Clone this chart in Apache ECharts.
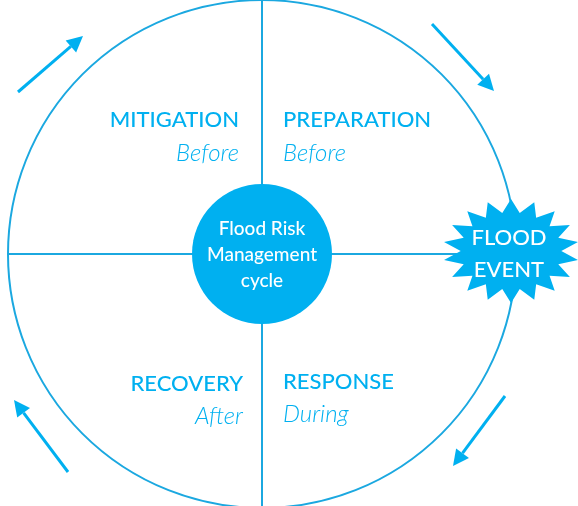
<!DOCTYPE html>
<html>
<head>
<meta charset="utf-8">
<script src="https://cdn.jsdelivr.net/npm/echarts@6/dist/echarts.min.js"></script>
<style>
  html, body { margin: 0; padding: 0; background: #fff; }
  #chart { width: 578px; height: 506px; }
</style>
</head>
<body>
<div id="chart"></div>
<script>
var phases = ['MITIGATION', 'PREPARATION', 'RESPONSE', 'RECOVERY'];
var timing = ['Before', 'Before', 'During', 'After'];
var centreLines = ['Flood Risk', 'Management', 'cycle'];
var eventLines = ['FLOOD', 'EVENT'];

var blue = '#00b0f0';
var lineBlue = '#1ba8e0';
var font = 'Lato';

var cx = 262, cy = 254, r = 254;

// label positions per quadrant: [x, y of title, align]
var labelPos = [
    [239, 120, 'right'],
    [283, 120, 'left'],
    [283, 382, 'left'],
    [243, 384, 'right']
];
var subPos = [
    [239, 153], [283, 153], [283, 414], [243, 416]
];

// cycle arrows: start -> end
var arrows = [
    [[18, 92], [83, 36]],
    [[432, 24], [494, 91]],
    [[505, 396], [453, 466]],
    [[68, 472], [14, 400]]
];

function starPoints(x, y, rx, ry, inner, n) {
    var pts = [];
    for (var i = 0; i < n * 2; i++) {
        var a = Math.PI * i / n - Math.PI / 2;
        var k = i % 2 === 0 ? 1 : inner;
        pts.push([x + Math.cos(a) * rx * k, y + Math.sin(a) * ry * k]);
    }
    return pts;
}

var elements = [];

elements.push({
    type: 'circle', shape: { cx: cx, cy: cy, r: r },
    style: { fill: 'none', stroke: lineBlue, lineWidth: 2 }
});
elements.push({
    type: 'line', shape: { x1: cx, y1: 0, x2: cx, y2: 506 },
    style: { stroke: lineBlue, lineWidth: 2 }
});
elements.push({
    type: 'line', shape: { x1: cx - r, y1: cy, x2: 460, y2: cy },
    style: { stroke: lineBlue, lineWidth: 2 }
});

elements.push({
    type: 'circle', shape: { cx: cx, cy: cy, r: 70 },
    style: { fill: blue }
});
centreLines.forEach(function (t, i) {
    elements.push({
        type: 'text', x: cx, y: 229 + i * 26,
        style: { text: t, fill: '#fff', font: '500 19px ' + font, textAlign: 'center', textVerticalAlign: 'middle' }
    });
});

phases.forEach(function (p, i) {
    elements.push({
        type: 'text', x: labelPos[i][0], y: labelPos[i][1],
        style: { text: p, fill: blue, font: '500 22px ' + font, textAlign: labelPos[i][2], textVerticalAlign: 'middle' }
    });
    elements.push({
        type: 'text', x: subPos[i][0], y: subPos[i][1],
        style: { text: timing[i], fill: blue, font: 'italic 300 24px ' + font, textAlign: labelPos[i][2], textVerticalAlign: 'middle' }
    });
});

elements.push({
    type: 'polygon', shape: { points: starPoints(511, 251, 68, 52, 0.74, 18) },
    style: { fill: blue }
});
eventLines.forEach(function (t, i) {
    elements.push({
        type: 'text', x: 509, y: 238 + i * 32,
        style: { text: t, fill: '#fff', font: '500 22px ' + font, textAlign: 'center', textVerticalAlign: 'middle' }
    });
});

arrows.forEach(function (a) {
    var x1 = a[0][0], y1 = a[0][1], x2 = a[1][0], y2 = a[1][1];
    var ang = Math.atan2(y2 - y1, x2 - x1);
    var len = 16, half = 8;
    var bx = x2 - Math.cos(ang) * len, by = y2 - Math.sin(ang) * len;
    elements.push({
        type: 'line', shape: { x1: x1, y1: y1, x2: bx, y2: by },
        style: { stroke: blue, lineWidth: 3 }
    });
    elements.push({
        type: 'polygon',
        shape: { points: [
            [x2, y2],
            [bx + Math.sin(ang) * half, by - Math.cos(ang) * half],
            [bx - Math.sin(ang) * half, by + Math.cos(ang) * half]
        ] },
        style: { fill: blue }
    });
});

var myChart = echarts.init(document.getElementById('chart'));
var option = {
    animation: false,
    graphic: elements
};
myChart.setOption(option);
</script>
</body>
</html>
